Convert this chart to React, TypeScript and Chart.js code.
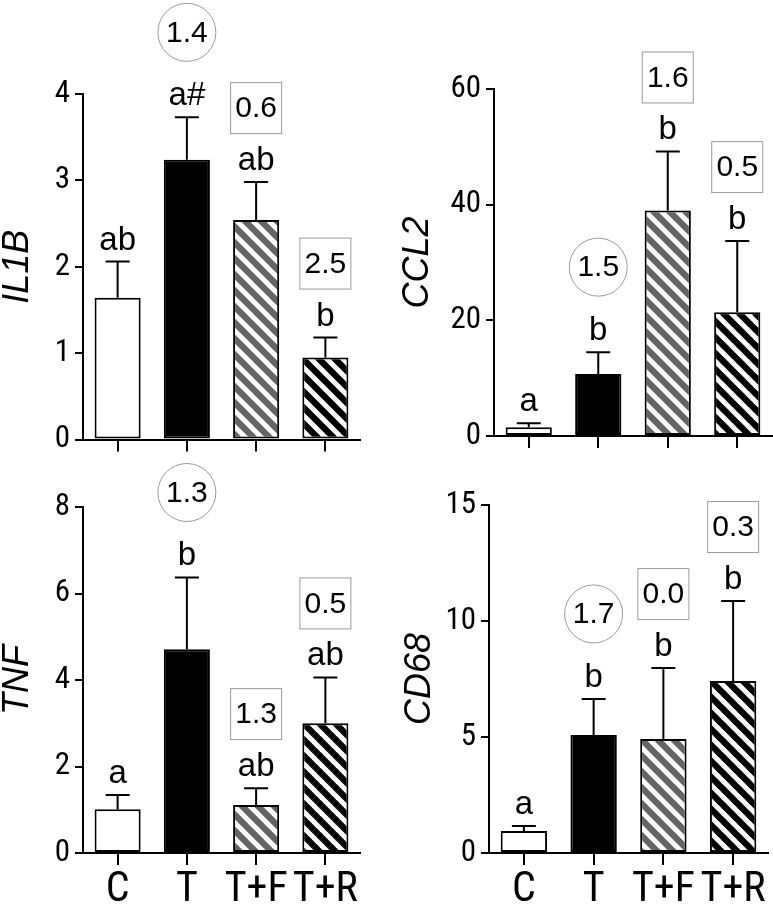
import React, { useEffect, useRef } from 'react';
import { Chart, registerables } from 'chart.js';

Chart.register(...registerables);

// ---------------- data ----------------
const categories = ['C', 'T', 'T+F', 'T+R'];

const il1bMeans = [1.64, 3.24, 2.54, 0.95];
const il1bSem = [0.42, 0.49, 0.44, 0.23];
const il1bLetters = ['ab', 'a#', 'ab', 'b'];
const il1bFold = ['', '1.4', '0.6', '2.5'];

const ccl2Means = [1.5, 10.7, 39.0, 21.4];
const ccl2Sem = [0.7, 3.8, 10.2, 12.3];
const ccl2Letters = ['a', 'b', 'b', 'b'];
const ccl2Fold = ['', '1.5', '1.6', '0.5'];

const tnfMeans = [1.01, 4.71, 1.11, 3.0];
const tnfSem = [0.33, 1.66, 0.39, 1.06];
const tnfLetters = ['a', 'b', 'ab', 'ab'];
const tnfFold = ['', '1.3', '1.3', '0.5'];

const cd68Means = [0.95, 5.09, 4.91, 7.41];
const cd68Sem = [0.21, 1.55, 3.06, 3.45];
const cd68Letters = ['a', 'b', 'b', 'b'];
const cd68Fold = ['', '1.7', '0.0', '0.3'];

const foldShapes = ['', 'circle', 'box', 'box'];

// ---------------- styles ----------------
const NARROW = "'Roboto Condensed', 'DejaVu Sans Condensed', sans-serif";
const SANS = "'Liberation Sans', Arial, sans-serif";
const GREY = '#646464';
const BLACK = '#000000';

type Panel = {
  title: string;
  means: number[];
  sem: number[];
  letters: string[];
  fold: string[];
  max: number;
  step: number;
  showLabels: boolean;
  box: { left: number; top: number; w: number; h: number };
  area: { left: number; top: number; right: number; bottom: number };
  titleOffset: number;
};

const panels: Panel[] = [
  {
    title: 'IL1B', means: il1bMeans, sem: il1bSem, letters: il1bLetters, fold: il1bFold,
    max: 4, step: 1, showLabels: false,
    box: { left: 0, top: 0, w: 386, h: 460 },
    area: { left: 83, top: 94, right: 360, bottom: 440 },
    titleOffset: 0,
  },
  {
    title: 'CCL2', means: ccl2Means, sem: ccl2Sem, letters: ccl2Letters, fold: ccl2Fold,
    max: 60, step: 20, showLabels: false,
    box: { left: 386, top: 0, w: 387, h: 460 },
    area: { left: 108, top: 89, right: 386, bottom: 436 },
    titleOffset: 14,
  },
  {
    title: 'TNF', means: tnfMeans, sem: tnfSem, letters: tnfLetters, fold: tnfFold,
    max: 8, step: 2, showLabels: true,
    box: { left: 0, top: 460, w: 386, h: 447 },
    area: { left: 83, top: 47, right: 360, bottom: 393 },
    titleOffset: 0,
  },
  {
    title: 'CD68', means: cd68Means, sem: cd68Sem, letters: cd68Letters, fold: cd68Fold,
    max: 15, step: 5, showLabels: true,
    box: { left: 386, top: 460, w: 387, h: 447 },
    area: { left: 103, top: 45, right: 382, bottom: 393 },
    titleOffset: 16,
  },
];

function makeStripe(bg: string): CanvasPattern | string {
  const s = 16;
  const c = document.createElement('canvas');
  c.width = s;
  c.height = s;
  const g = c.getContext('2d');
  if (!g) return bg;
  g.fillStyle = bg;
  g.fillRect(0, 0, s, s);
  g.strokeStyle = '#ffffff';
  g.lineWidth = 5;
  for (const k of [-1, 0, 1]) {
    g.beginPath();
    g.moveTo(-2, k * s - 2);
    g.lineTo(s + 2, k * s + s + 2);
    g.stroke();
  }
  return g.createPattern(c, 'repeat') || bg;
}

function PanelChart({ p }: { p: Panel }) {
  const ref = useRef<HTMLCanvasElement>(null);
  useEffect(() => {
    const canvas = ref.current;
    if (!canvas) return;
    const fills = ['#ffffff', BLACK, makeStripe(GREY), makeStripe(BLACK)];

    const annot = {
      id: 'annot',
      afterDatasetsDraw(chart: any) {
        const ctx = chart.ctx as CanvasRenderingContext2D;
        const ys = chart.scales.y;
        const meta = chart.getDatasetMeta(0);
        ctx.save();
        meta.data.forEach((bar: any, i: number) => {
          const x = bar.x;
          const yMean = ys.getPixelForValue(p.means[i]);
          const yTop = ys.getPixelForValue(p.means[i] + p.sem[i]);
          // error bar (upper only)
          ctx.strokeStyle = BLACK;
          ctx.lineWidth = 2;
          ctx.beginPath();
          ctx.moveTo(x, yMean);
          ctx.lineTo(x, yTop);
          ctx.moveTo(x - 12, yTop);
          ctx.lineTo(x + 12, yTop);
          ctx.stroke();
          // significance letters
          ctx.fillStyle = BLACK;
          ctx.font = `33px ${SANS}`;
          ctx.textAlign = 'center';
          ctx.textBaseline = 'alphabetic';
          ctx.fillText(p.letters[i], x, yTop - 12);
          // fold-change labels
          const shape = foldShapes[i];
          const txt = p.fold[i];
          if (shape && txt) {
            ctx.lineWidth = 1;
            ctx.strokeStyle = '#9a9a9a';
            let cy: number;
            if (shape === 'circle') {
              cy = yTop - 85;
              ctx.beginPath();
              ctx.arc(x, cy, 29, 0, Math.PI * 2);
              ctx.stroke();
            } else {
              cy = yTop - 74;
              ctx.strokeRect(x - 25.5, cy - 25.5, 51, 51);
            }
            ctx.fillStyle = BLACK;
            ctx.font = `30px ${SANS}`;
            ctx.textAlign = 'center';
            ctx.textBaseline = 'middle';
            ctx.fillText(txt, x, cy + 1);
          }
        });
        ctx.restore();
      },
    };

    const chart = new Chart(canvas, {
      type: 'bar',
      data: {
        labels: categories,
        datasets: [
          {
            data: p.means,
            backgroundColor: fills as any,
            borderColor: BLACK,
            borderWidth: 2,
            borderSkipped: false,
            barPercentage: 0.665,
            categoryPercentage: 1,
          },
        ],
      },
      options: {
        animation: false,
        responsive: false,
        maintainAspectRatio: false,
        layout: {
          padding: { left: 0, top: p.area.top, right: p.box.w - p.area.right, bottom: 0 },
        },
        plugins: { legend: { display: false }, tooltip: { enabled: false } },
        scales: {
          x: {
            offset: true,
            grid: {
              offset: false,
              drawOnChartArea: false,
              drawTicks: true,
              tickLength: 12,
              color: BLACK,
              lineWidth: 2,
            },
            border: { display: true, color: BLACK, width: 2 },
            ticks: {
              display: p.showLabels,
              color: BLACK,
              padding: 4,
              maxRotation: 0,
              autoSkip: false,
              font: { family: NARROW, size: 42, lineHeight: 1 },
            },
            afterFit: (s: any) => {
              s.height = p.box.h - p.area.bottom;
            },
          },
          y: {
            min: 0,
            max: p.max,
            grid: {
              drawOnChartArea: false,
              drawTicks: true,
              tickLength: 8,
              color: BLACK,
              lineWidth: 2,
            },
            border: { display: true, color: BLACK, width: 2 },
            ticks: {
              stepSize: p.step,
              color: BLACK,
              padding: 5,
              font: { family: NARROW, size: 31, lineHeight: 1 },
            },
            title: {
              display: true,
              text: p.title,
              color: BLACK,
              font: { family: SANS, size: 36, style: 'italic', lineHeight: 1 },
              padding: { top: p.titleOffset, bottom: 0 },
            },
            afterFit: (s: any) => {
              s.width = p.area.left;
            },
          },
        },
      } as any,
      plugins: [annot],
    });
    return () => chart.destroy();
  }, [p]);

  return (
    <canvas
      ref={ref}
      width={p.box.w}
      height={p.box.h}
      style={{
        position: 'absolute',
        left: p.box.left,
        top: p.box.top,
        width: p.box.w,
        height: p.box.h,
      }}
    />
  );
}

export default function App() {
  return (
    <div
      style={{
        position: 'absolute',
        left: 0,
        top: 0,
        width: 773,
        height: 907,
        background: '#ffffff',
        overflow: 'hidden',
      }}
    >
      {panels.map((p) => (
        <PanelChart key={p.title} p={p} />
      ))}
    </div>
  );
}
